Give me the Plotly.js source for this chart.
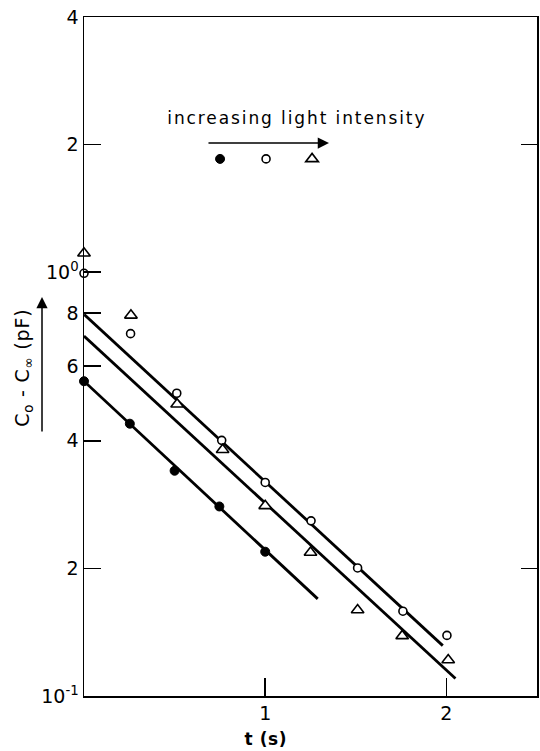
<!DOCTYPE html>
<html>
<head>
<meta charset="utf-8">
<script src="https://cdn.plot.ly/plotly-3.0.1.min.js"></script>
<style>
html,body{margin:0;padding:0;background:#fff;}
#chart{width:540px;height:751px;}
g.annotation[data-index="0"] text{letter-spacing:1.9px;}
g.annotation[data-index="2"] text{letter-spacing:0.8px;}
g.annotation[data-index="4"] text{letter-spacing:0.6px;}
</style>
</head>
<body>
<div id="chart"></div>
<script>
// Data (t in s, C0 - Cinf in pF)
const tFilled = [0, 0.253, 0.5, 0.747, 1.0];
const cFilled = [0.553, 0.439, 0.340, 0.280, 0.219];

const tOpen = [0, 0.257, 0.512, 0.76, 1.0, 1.253, 1.51, 1.76, 2.003];
const cOpen = [0.994, 0.716, 0.518, 0.401, 0.319, 0.259, 0.2005, 0.1585, 0.139];

const tTri = [0, 0.259, 0.514, 0.765, 1.0, 1.25, 1.51, 1.756, 2.01];
const cTri = [1.108, 0.791, 0.488, 0.381, 0.281, 0.218, 0.1596, 0.1386, 0.1216];

// fitted straight lines (end points)
const fitFilledT = [0, 1.29];
const fitFilledC = [0.553, 0.1695];
const fitOpenT = [0, 1.98];
const fitOpenC = [0.795, 0.1315];
const fitTriT = [0, 2.05];
const fitTriC = [0.707, 0.110];

const yTickVals = [0.1, 0.2, 0.4, 0.6, 0.8, 1, 2, 4];
const yTickText = ['10<sup>-1</sup>', '2', '4', '6', '8', '10<sup>0</sup>', '2', '4'];
const xTickVals = [1, 2];
const xTickText = ['1', '2'];
const rightTickVals = [0.2, 2];

const FONT = 'DejaVu Sans, sans-serif';
const fitLine = {color: '#000', width: 2.8};

const traces = [
  {x: fitFilledT, y: fitFilledC, mode: 'lines', line: fitLine, showlegend: false, hoverinfo: 'skip'},
  {x: fitOpenT, y: fitOpenC, mode: 'lines', line: fitLine, showlegend: false, hoverinfo: 'skip'},
  {x: fitTriT, y: fitTriC, mode: 'lines', line: fitLine, showlegend: false, hoverinfo: 'skip'},
  {x: tFilled, y: cFilled, mode: 'markers', name: ' ', cliponaxis: false,
   marker: {symbol: 'circle', size: 9, color: '#000', line: {color: '#000', width: 1}}},
  {x: tOpen, y: cOpen, mode: 'markers', name: ' ', cliponaxis: false,
   marker: {symbol: 'circle', size: 8, color: '#fff', line: {color: '#000', width: 1.6}}},
  {x: tTri, y: cTri, mode: 'markers', name: ' ', cliponaxis: false,
   marker: {symbol: 'triangle-up', size: 11, color: '#fff', line: {color: '#000', width: 1.6}}},
  {x: [null], y: [null], yaxis: 'y2', mode: 'markers', showlegend: false, hoverinfo: 'skip'}
];

const layout = {
  width: 540, height: 751,
  margin: {l: 84, r: 3, t: 17, b: 55, pad: 0},
  paper_bgcolor: '#fff', plot_bgcolor: '#fff',
  font: {family: FONT, color: '#000', size: 18},
  showlegend: true,
  legend: {orientation: 'h', x: 0.2562, xanchor: 'left', y: 0.791, yanchor: 'middle',
           entrywidth: 1, entrywidthmode: 'pixels', bgcolor: 'rgba(0,0,0,0)',
           font: {size: 12}, itemclick: false},
  xaxis: {range: [0, 2.5], tickvals: xTickVals, ticktext: xTickText,
          ticks: 'inside', ticklen: 18, tickwidth: 1.5, tickcolor: '#000',
          showline: true, linewidth: 1.5, linecolor: '#000', mirror: true,
          showgrid: false, zeroline: false, tickfont: {size: 19, family: FONT}},
  yaxis: {type: 'log', range: [-1, Math.log10(4)], tickvals: yTickVals, ticktext: yTickText,
          ticks: 'inside', ticklen: 17, tickwidth: 1.5, tickcolor: '#000',
          showline: true, linewidth: 1.5, linecolor: '#000', mirror: true,
          showgrid: false, zeroline: false, tickfont: {size: 19, family: FONT}},
  yaxis2: {type: 'log', range: [-1, Math.log10(4)], overlaying: 'y', side: 'right',
           tickvals: rightTickVals, ticks: 'inside', ticklen: 16, tickwidth: 1.5, tickcolor: '#000',
           showticklabels: false, showline: false, showgrid: false, zeroline: false},
  annotations: [
    {text: 'increasing light intensity', xref: 'paper', yref: 'paper', x: 0.470, y: 0.851,
     xanchor: 'center', yanchor: 'middle', showarrow: false, font: {size: 17, family: FONT}},
    {text: '', xref: 'paper', yref: 'paper', x: 0.5408, y: 0.8144, ax: -122, ay: 0,
     showarrow: true, arrowhead: 2, arrowsize: 1.5, arrowwidth: 1.5, arrowcolor: '#000', standoff: 0},
    {text: 'C<sub>o</sub> - C<sub>∞</sub> (pF)', xref: 'paper', yref: 'paper', x: -0.1347, y: 0.4845,
     xanchor: 'center', yanchor: 'middle', textangle: -90, showarrow: false, font: {size: 19, family: FONT}},
    {text: '', xref: 'paper', yref: 'paper', x: -0.0927, y: 0.5876, ax: 0, ay: 136,
     showarrow: true, arrowhead: 2, arrowsize: 1.5, arrowwidth: 1.5, arrowcolor: '#000', standoff: 0},
    {text: '<b>t (s)</b>', xref: 'paper', yref: 'paper', x: 0.4018, y: -0.0633,
     xanchor: 'center', yanchor: 'middle', showarrow: false, font: {size: 17, family: FONT}}
  ]
};

Plotly.newPlot('chart', traces, layout, {staticPlot: true, displayModeBar: false});
</script>
</body>
</html>
